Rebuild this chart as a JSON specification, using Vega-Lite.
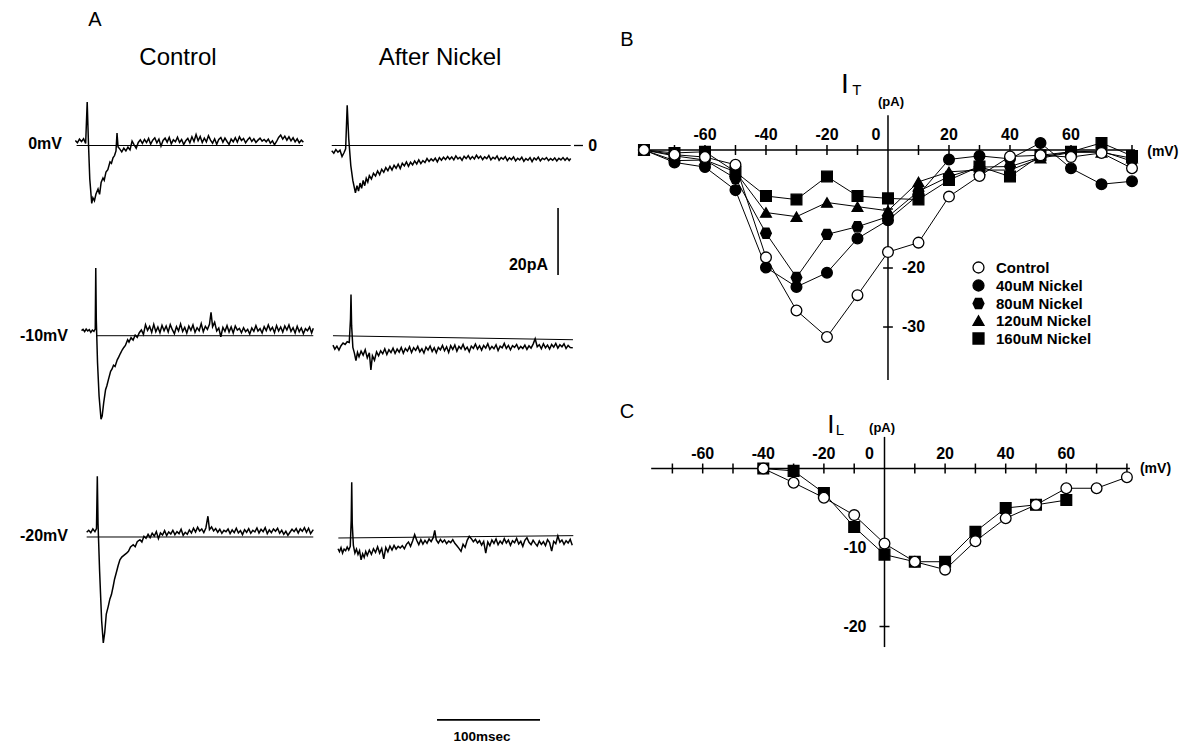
{
"$schema": "https://vega.github.io/schema/vega-lite/v6.json",
"padding": 0,
"background": "white",
"spacing": 0,
"config": {"view": {"stroke": null}, "font": "Liberation Sans", "text": {"font": "Liberation Sans", "color": "black"}},
"datasets": {
"r1c": [{"t":-12,"i":1.5},{"t":-10,"i":0.8},{"t":-8,"i":1.9},{"t":-6,"i":1.2},{"t":-4,"i":2.0},{"t":-2,"i":0.6},{"t":-0.5,"i":13.0},{"t":0.8,"i":0},{"t":2,"i":-10},{"t":3.9,"i":-17.3},{"t":5,"i":-15.6},{"t":6.5,"i":-16.5},{"t":8,"i":-14.5},{"t":10,"i":-13.0},{"t":11.5,"i":-14.6},{"t":13,"i":-11.0},{"t":14.8,"i":-9.7},{"t":16,"i":-10.4},{"t":17.7,"i":-7.9},{"t":19.5,"i":-7.2},{"t":21.6,"i":-4.9},{"t":23,"i":-5.3},{"t":24.5,"i":-3.7},{"t":26,"i":-3.0},{"t":27.4,"i":-1.6},{"t":28.4,"i":3.7},{"t":29.4,"i":-0.4},{"t":31,"i":-1.0},{"t":33,"i":-1.9},{"t":35,"i":-0.8},{"t":37,"i":-1.6},{"t":39,"i":-0.5},{"t":41,"i":-1.3},{"t":43,"i":1.3},{"t":45,"i":0.2},{"t":47,"i":-0.8},{"t":49,"i":0.9},{"t":51,"i":1.7},{"t":53,"i":0.6},{"t":55,"i":1.8},{"t":57,"i":0.9},{"t":59,"i":2.1},{"t":61,"i":0.4},{"t":63,"i":1.6},{"t":65,"i":2.3},{"t":67,"i":0.8},{"t":69,"i":1.9},{"t":71,"i":-0.2},{"t":73,"i":1.5},{"t":75,"i":2.2},{"t":77,"i":1.0},{"t":79,"i":2.4},{"t":81,"i":0.5},{"t":83,"i":1.7},{"t":85,"i":1.1},{"t":87,"i":2.5},{"t":89,"i":0.9},{"t":91,"i":1.8},{"t":93,"i":0.3},{"t":95,"i":1.4},{"t":97,"i":2.1},{"t":99,"i":0.8},{"t":101,"i":2.6},{"t":103,"i":1.2},{"t":105,"i":3.3},{"t":107,"i":1.4},{"t":109,"i":2.7},{"t":111,"i":0.9},{"t":113,"i":2.2},{"t":115,"i":1.1},{"t":117,"i":2.9},{"t":119,"i":1.6},{"t":121,"i":0.7},{"t":123,"i":2.0},{"t":125,"i":0.4},{"t":127,"i":1.8},{"t":129,"i":2.4},{"t":131,"i":1.0},{"t":133,"i":2.2},{"t":135,"i":1.2},{"t":137,"i":0.3},{"t":139,"i":1.9},{"t":141,"i":1.1},{"t":143,"i":2.3},{"t":145,"i":1.0},{"t":147,"i":2.6},{"t":149,"i":1.5},{"t":151,"i":2.1},{"t":153,"i":0.8},{"t":155,"i":1.7},{"t":157,"i":2.4},{"t":159,"i":1.2},{"t":161,"i":2.0},{"t":163,"i":0.9},{"t":165,"i":1.6},{"t":167,"i":2.2},{"t":169,"i":1.3},{"t":171,"i":1.8},{"t":173,"i":1.1},{"t":175,"i":1.9},{"t":177,"i":0.7},{"t":179,"i":1.4},{"t":181,"i":0.2},{"t":183,"i":1.2},{"t":185,"i":2.4},{"t":187,"i":3.1},{"t":189,"i":1.9},{"t":191,"i":2.8},{"t":193,"i":1.6},{"t":195,"i":2.6},{"t":197,"i":1.4},{"t":199,"i":2.3},{"t":201,"i":1.1},{"t":203,"i":2.0},{"t":205,"i":0.8},{"t":207,"i":1.6},{"t":209,"i":1.0}],
"r1n": [{"t":-15.5,"i":-1.6},{"t":-13.5,"i":-2.3},{"t":-11.5,"i":-1.2},{"t":-9.5,"i":-2.0},{"t":-7.5,"i":-1.4},{"t":-5.5,"i":-3.3},{"t":-3.5,"i":-2.1},{"t":-2,"i":-1.0},{"t":-0.5,"i":12.0},{"t":1,"i":2},{"t":3,"i":-6},{"t":5,"i":-10.5},{"t":7.5,"i":-14.1},{"t":9,"i":-12.0},{"t":10.5,"i":-13.6},{"t":12,"i":-11.2},{"t":13.5,"i":-12.8},{"t":15,"i":-10.4},{"t":16.5,"i":-12.0},{"t":18,"i":-9.8},{"t":19.5,"i":-10.9},{"t":21,"i":-9.0},{"t":23,"i":-10.0},{"t":25,"i":-8.3},{"t":27,"i":-9.1},{"t":29,"i":-7.6},{"t":31,"i":-8.7},{"t":33,"i":-7.1},{"t":35,"i":-8.0},{"t":37,"i":-6.6},{"t":39,"i":-7.5},{"t":41,"i":-6.2},{"t":43,"i":-7.3},{"t":45,"i":-5.9},{"t":47,"i":-6.8},{"t":49,"i":-5.6},{"t":51,"i":-6.9},{"t":53,"i":-5.3},{"t":55,"i":-6.1},{"t":57,"i":-4.9},{"t":59,"i":-6.2},{"t":61,"i":-5.0},{"t":63,"i":-5.8},{"t":65,"i":-4.6},{"t":67,"i":-5.5},{"t":69,"i":-4.3},{"t":71,"i":-5.4},{"t":73,"i":-4.5},{"t":75,"i":-5.1},{"t":77,"i":-3.9},{"t":79,"i":-4.8},{"t":81,"i":-4.0},{"t":83,"i":-4.6},{"t":85,"i":-3.8},{"t":87,"i":-4.9},{"t":89,"i":-3.6},{"t":91,"i":-4.4},{"t":93,"i":-3.5},{"t":95,"i":-4.2},{"t":97,"i":-3.3},{"t":99,"i":-4.1},{"t":101,"i":-3.4},{"t":103,"i":-4.3},{"t":105,"i":-3.1},{"t":107,"i":-4.0},{"t":109,"i":-3.5},{"t":111,"i":-4.4},{"t":113,"i":-3.2},{"t":115,"i":-3.9},{"t":117,"i":-3.0},{"t":119,"i":-4.1},{"t":121,"i":-3.3},{"t":123,"i":-4.0},{"t":125,"i":-2.9},{"t":127,"i":-3.8},{"t":129,"i":-3.2},{"t":131,"i":-4.2},{"t":133,"i":-3.4},{"t":135,"i":-3.9},{"t":137,"i":-3.0},{"t":139,"i":-4.3},{"t":141,"i":-3.5},{"t":143,"i":-4.0},{"t":145,"i":-3.1},{"t":147,"i":-4.4},{"t":149,"i":-3.6},{"t":151,"i":-4.1},{"t":153,"i":-3.3},{"t":155,"i":-4.5},{"t":157,"i":-3.7},{"t":159,"i":-4.2},{"t":161,"i":-3.4},{"t":163,"i":-4.6},{"t":165,"i":-3.8},{"t":167,"i":-4.3},{"t":169,"i":-3.5},{"t":171,"i":-4.7},{"t":173,"i":-3.9},{"t":175,"i":-4.4},{"t":177,"i":-3.6},{"t":179,"i":-4.8},{"t":181,"i":-3.7},{"t":183,"i":-4.3},{"t":185,"i":-3.5},{"t":187,"i":-4.6},{"t":189,"i":-3.8},{"t":191,"i":-4.2},{"t":193,"i":-3.6},{"t":195,"i":-4.5},{"t":197,"i":-3.9},{"t":199,"i":-4.4},{"t":201,"i":-3.7},{"t":203,"i":-4.6},{"t":205,"i":-3.8},{"t":207,"i":-4.3},{"t":209,"i":-3.6},{"t":211,"i":-4.4},{"t":213,"i":-3.7},{"t":215,"i":-4.5},{"t":216.5,"i":-3.9}],
"r2c": [{"t":-6,"i":1.5},{"t":-4.5,"i":1.9},{"t":-3,"i":1.2},{"t":-1.5,"i":2.0},{"t":0,"i":1.4},{"t":1.5,"i":1.8},{"t":3,"i":1.0},{"t":4.5,"i":1.7},{"t":6,"i":1.3},{"t":7.3,"i":2},{"t":7.8,"i":20.2},{"t":8.3,"i":5},{"t":9.5,"i":-8},{"t":11,"i":-18},{"t":12.9,"i":-24.9},{"t":14,"i":-24.0},{"t":15.5,"i":-20.0},{"t":17.3,"i":-16.1},{"t":18.5,"i":-15.0},{"t":20,"i":-13.2},{"t":22.2,"i":-10.6},{"t":23.5,"i":-10.0},{"t":25,"i":-8.8},{"t":26.5,"i":-9.2},{"t":28.6,"i":-7.2},{"t":30,"i":-6.4},{"t":31.5,"i":-5.4},{"t":33.5,"i":-4.2},{"t":35,"i":-3.5},{"t":36.5,"i":-2.9},{"t":38.7,"i":-1.2},{"t":40,"i":-1.9},{"t":42,"i":-0.6},{"t":44,"i":-1.3},{"t":46,"i":0.2},{"t":48,"i":-0.5},{"t":50,"i":0.9},{"t":52,"i":1.7},{"t":54,"i":0.4},{"t":56,"i":3.3},{"t":58,"i":1.6},{"t":60,"i":2.8},{"t":62,"i":1.0},{"t":64,"i":3.4},{"t":66,"i":1.2},{"t":68,"i":2.6},{"t":70,"i":0.9},{"t":72,"i":3.1},{"t":74,"i":1.5},{"t":76,"i":2.9},{"t":78,"i":1.1},{"t":80,"i":3.3},{"t":82,"i":1.8},{"t":84,"i":0.6},{"t":86,"i":2.7},{"t":88,"i":1.4},{"t":90,"i":3.5},{"t":92,"i":1.3},{"t":94,"i":2.5},{"t":96,"i":0.8},{"t":98,"i":2.9},{"t":100,"i":1.6},{"t":102,"i":3.2},{"t":104,"i":1.0},{"t":106,"i":2.4},{"t":108,"i":1.5},{"t":110,"i":3.6},{"t":112,"i":1.2},{"t":114,"i":2.8},{"t":116,"i":1.9},{"t":118,"i":3.4},{"t":119.5,"i":7.0},{"t":121,"i":2.7},{"t":123,"i":4.0},{"t":125,"i":1.4},{"t":127,"i":2.3},{"t":129,"i":-0.3},{"t":131,"i":2.5},{"t":133,"i":1.3},{"t":135,"i":3.0},{"t":137,"i":1.1},{"t":139,"i":2.6},{"t":141,"i":0.8},{"t":143,"i":2.9},{"t":145,"i":1.7},{"t":147,"i":2.2},{"t":149,"i":0.9},{"t":151,"i":2.4},{"t":153,"i":1.2},{"t":155,"i":1.9},{"t":157,"i":0.5},{"t":159,"i":2.3},{"t":161,"i":1.3},{"t":163,"i":3.0},{"t":165,"i":1.4},{"t":167,"i":2.1},{"t":169,"i":0.8},{"t":171,"i":2.7},{"t":173,"i":1.5},{"t":175,"i":3.2},{"t":177,"i":1.6},{"t":179,"i":2.5},{"t":181,"i":0.9},{"t":183,"i":3.0},{"t":185,"i":1.4},{"t":187,"i":2.6},{"t":189,"i":1.1},{"t":191,"i":2.9},{"t":193,"i":1.7},{"t":195,"i":3.2},{"t":197,"i":1.3},{"t":199,"i":2.4},{"t":201,"i":0.8},{"t":203,"i":2.8},{"t":205,"i":1.2},{"t":207,"i":2.3},{"t":209,"i":0.6},{"t":211,"i":2.1},{"t":213,"i":1.5},{"t":215,"i":2.6},{"t":217,"i":0.8},{"t":218.6,"i":2.2}],
"r2n": [{"t":-14.3,"i":-2.8},{"t":-12.5,"i":-4.0},{"t":-10.5,"i":-3.1},{"t":-8.5,"i":-4.3},{"t":-6.5,"i":-3.0},{"t":-4.5,"i":-2.2},{"t":-2.5,"i":-2.6},{"t":-0.5,"i":-1.8},{"t":1.5,"i":-2.0},{"t":2.7,"i":5},{"t":3.2,"i":12.3},{"t":3.8,"i":3},{"t":5,"i":-3.5},{"t":6.5,"i":-5.2},{"t":8,"i":-7.4},{"t":9.5,"i":-5.0},{"t":11,"i":-6.3},{"t":13,"i":-4.6},{"t":15,"i":-5.8},{"t":17,"i":-4.2},{"t":19,"i":-6.6},{"t":21,"i":-5.1},{"t":22.5,"i":-10.2},{"t":24,"i":-6.0},{"t":26,"i":-7.3},{"t":28,"i":-4.8},{"t":30,"i":-6.0},{"t":32,"i":-4.5},{"t":34,"i":-5.4},{"t":36,"i":-3.9},{"t":38,"i":-5.6},{"t":40,"i":-4.2},{"t":42,"i":-5.0},{"t":44,"i":-3.7},{"t":46,"i":-5.3},{"t":48,"i":-4.0},{"t":50,"i":-4.9},{"t":52,"i":-3.5},{"t":54,"i":-5.2},{"t":56,"i":-3.8},{"t":58,"i":-4.6},{"t":60,"i":-3.3},{"t":62,"i":-5.0},{"t":64,"i":-3.6},{"t":66,"i":-4.4},{"t":68,"i":-3.2},{"t":70,"i":-4.8},{"t":72,"i":-3.9},{"t":74,"i":-5.2},{"t":76,"i":-3.4},{"t":78,"i":-4.3},{"t":80,"i":-3.1},{"t":82,"i":-4.7},{"t":84,"i":-3.6},{"t":86,"i":-5.1},{"t":88,"i":-3.5},{"t":90,"i":-4.2},{"t":92,"i":-2.9},{"t":94,"i":-4.5},{"t":96,"i":-3.3},{"t":98,"i":-5.0},{"t":100,"i":-3.0},{"t":102,"i":-4.1},{"t":104,"i":-2.8},{"t":106,"i":-4.6},{"t":108,"i":-3.2},{"t":110,"i":-3.9},{"t":112,"i":-2.6},{"t":114,"i":-4.2},{"t":116,"i":-3.4},{"t":118,"i":-4.8},{"t":120,"i":-3.1},{"t":122,"i":-3.8},{"t":124,"i":-2.5},{"t":126,"i":-4.0},{"t":128,"i":-3.0},{"t":130,"i":-4.3},{"t":132,"i":-2.9},{"t":134,"i":-3.7},{"t":136,"i":-2.4},{"t":138,"i":-4.1},{"t":140,"i":-3.2},{"t":142,"i":-3.9},{"t":144,"i":-2.7},{"t":146,"i":-4.4},{"t":148,"i":-3.1},{"t":150,"i":-3.6},{"t":152,"i":-2.3},{"t":154,"i":-3.8},{"t":156,"i":-2.9},{"t":158,"i":-4.2},{"t":160,"i":-3.0},{"t":162,"i":-3.5},{"t":164,"i":-2.6},{"t":166,"i":-4.0},{"t":168,"i":-3.2},{"t":170,"i":-3.8},{"t":172,"i":-2.8},{"t":174,"i":-4.1},{"t":176,"i":-3.0},{"t":178,"i":-3.7},{"t":180,"i":-2.5},{"t":182,"i":-0.9},{"t":184,"i":-3.3},{"t":186,"i":-2.7},{"t":188,"i":-3.9},{"t":190,"i":-2.4},{"t":192,"i":-3.6},{"t":194,"i":-2.8},{"t":196,"i":-4.0},{"t":198,"i":-2.6},{"t":200,"i":-3.4},{"t":202,"i":-2.3},{"t":204,"i":-3.7},{"t":206,"i":-2.7},{"t":208,"i":-3.3},{"t":210,"i":-2.4},{"t":212,"i":-3.8},{"t":214,"i":-2.9},{"t":216,"i":-3.5},{"t":218.5,"i":-3.6}],
"r3c": [{"t":-1,"i":1.4},{"t":1,"i":2.0},{"t":3,"i":1.3},{"t":5,"i":2.4},{"t":7,"i":1.6},{"t":8.5,"i":2.5},{"t":9.3,"i":18.1},{"t":10,"i":4},{"t":11.5,"i":-10},{"t":13.5,"i":-25},{"t":15.1,"i":-31.6},{"t":16.5,"i":-28.5},{"t":18,"i":-23.0},{"t":19.9,"i":-20.7},{"t":21.5,"i":-18.5},{"t":23,"i":-17.2},{"t":24.7,"i":-14.7},{"t":26,"i":-12.6},{"t":28,"i":-10.3},{"t":29.5,"i":-8.5},{"t":31.2,"i":-6.8},{"t":33,"i":-6.0},{"t":35,"i":-5.5},{"t":37.7,"i":-4.8},{"t":39.5,"i":-4.3},{"t":41.5,"i":-3.0},{"t":44.1,"i":-2.3},{"t":46,"i":-2.9},{"t":48,"i":-1.4},{"t":50.6,"i":-0.8},{"t":52.5,"i":-1.5},{"t":54.5,"i":0.2},{"t":56.5,"i":-0.4},{"t":58.5,"i":0.8},{"t":60.5,"i":-0.2},{"t":62.5,"i":1.1},{"t":64.5,"i":0.3},{"t":66.5,"i":1.6},{"t":68.5,"i":-0.5},{"t":70.5,"i":1.2},{"t":72.5,"i":0.6},{"t":74.5,"i":1.9},{"t":76.5,"i":0.4},{"t":78.5,"i":1.5},{"t":80.5,"i":0.9},{"t":82.5,"i":2.0},{"t":84.5,"i":0.7},{"t":86.5,"i":1.6},{"t":88.5,"i":1.0},{"t":90.5,"i":2.3},{"t":92.5,"i":0.5},{"t":94.5,"i":1.4},{"t":96.5,"i":0.8},{"t":98.5,"i":2.1},{"t":100.5,"i":1.2},{"t":102.5,"i":2.6},{"t":104.5,"i":1.5},{"t":106.5,"i":2.9},{"t":108.5,"i":1.8},{"t":110.5,"i":2.4},{"t":112.5,"i":1.3},{"t":114.5,"i":2.7},{"t":116.5,"i":6.2},{"t":118,"i":2.2},{"t":120,"i":3.0},{"t":122,"i":1.8},{"t":124,"i":2.5},{"t":126,"i":1.4},{"t":128,"i":2.3},{"t":130,"i":1.1},{"t":132,"i":2.0},{"t":134,"i":1.6},{"t":136,"i":2.4},{"t":138,"i":1.0},{"t":140,"i":2.1},{"t":142,"i":1.3},{"t":144,"i":2.6},{"t":146,"i":1.2},{"t":148,"i":1.9},{"t":150,"i":0.7},{"t":152,"i":2.2},{"t":154,"i":1.4},{"t":156,"i":2.5},{"t":158,"i":1.1},{"t":160,"i":2.0},{"t":162,"i":1.5},{"t":164,"i":2.7},{"t":166,"i":1.2},{"t":168,"i":2.3},{"t":170,"i":1.6},{"t":172,"i":2.8},{"t":174,"i":1.0},{"t":176,"i":2.1},{"t":178,"i":1.3},{"t":180,"i":2.4},{"t":182,"i":1.7},{"t":184,"i":2.6},{"t":186,"i":1.1},{"t":188,"i":2.0},{"t":190,"i":0.8},{"t":192,"i":1.7},{"t":194,"i":0.5},{"t":196,"i":1.4},{"t":198,"i":2.3},{"t":200,"i":1.6},{"t":202,"i":2.5},{"t":204,"i":1.2},{"t":206,"i":2.4},{"t":208,"i":1.7},{"t":210,"i":2.8},{"t":212,"i":1.4},{"t":214,"i":2.6},{"t":216,"i":1.0},{"t":218.6,"i":2.2}],
"r3n": [{"t":-9.4,"i":-3.5},{"t":-8,"i":-4.4},{"t":-6.5,"i":-3.2},{"t":-5,"i":-4.8},{"t":-3.5,"i":-3.6},{"t":-2,"i":-4.1},{"t":-0.5,"i":-3.0},{"t":1,"i":-3.9},{"t":2.5,"i":-2.8},{"t":3.4,"i":5},{"t":3.9,"i":16.3},{"t":4.4,"i":4},{"t":5.5,"i":-2.5},{"t":7,"i":-4.8},{"t":8.5,"i":-3.6},{"t":10,"i":-5.2},{"t":11.5,"i":-4.1},{"t":13,"i":-6.8},{"t":14.5,"i":-5.0},{"t":16,"i":-6.1},{"t":17.5,"i":-4.3},{"t":19,"i":-5.5},{"t":21,"i":-3.9},{"t":23,"i":-5.2},{"t":25,"i":-3.5},{"t":27,"i":-4.6},{"t":29,"i":-2.9},{"t":31,"i":-4.8},{"t":33,"i":-3.4},{"t":35,"i":-6.5},{"t":37,"i":-3.1},{"t":39,"i":-4.4},{"t":41,"i":-2.7},{"t":43,"i":-3.9},{"t":45,"i":-2.5},{"t":47,"i":-3.6},{"t":49,"i":-2.8},{"t":51,"i":-3.3},{"t":53,"i":-2.6},{"t":55,"i":-3.5},{"t":57,"i":-2.2},{"t":59,"i":-1.5},{"t":61,"i":-2.8},{"t":63,"i":-1.2},{"t":65,"i":0.7},{"t":67,"i":-1.0},{"t":69,"i":-2.3},{"t":71,"i":-0.8},{"t":73,"i":-2.1},{"t":75,"i":-1.0},{"t":77,"i":-1.9},{"t":79,"i":-0.6},{"t":81,"i":-1.4},{"t":83,"i":-0.2},{"t":84.5,"i":2.0},{"t":86,"i":-0.9},{"t":88,"i":-1.8},{"t":90,"i":-0.7},{"t":92,"i":-1.6},{"t":94,"i":-0.9},{"t":96,"i":-2.0},{"t":98,"i":-1.2},{"t":100,"i":-1.7},{"t":102,"i":-0.8},{"t":104,"i":-1.9},{"t":106,"i":-2.6},{"t":108,"i":-3.4},{"t":110,"i":-4.3},{"t":112,"i":-2.2},{"t":114,"i":-3.1},{"t":116,"i":-1.0},{"t":118,"i":0.2},{"t":120,"i":-0.5},{"t":122,"i":-1.4},{"t":124,"i":-0.7},{"t":126,"i":-1.8},{"t":128,"i":-1.1},{"t":130,"i":-2.4},{"t":132,"i":-1.3},{"t":134,"i":-4.8},{"t":136,"i":-1.5},{"t":138,"i":-2.6},{"t":140,"i":-0.9},{"t":142,"i":-1.9},{"t":144,"i":-0.6},{"t":146,"i":-2.3},{"t":148,"i":-1.2},{"t":150,"i":-2.0},{"t":152,"i":-0.5},{"t":154,"i":-1.8},{"t":156,"i":-0.9},{"t":158,"i":-2.5},{"t":160,"i":-1.1},{"t":162,"i":-1.7},{"t":164,"i":-0.4},{"t":166,"i":-2.1},{"t":168,"i":-1.3},{"t":170,"i":-2.8},{"t":172,"i":-1.0},{"t":174,"i":-0.2},{"t":176,"i":-1.6},{"t":178,"i":-2.3},{"t":180,"i":-1.0},{"t":182,"i":-1.9},{"t":184,"i":-2.7},{"t":186,"i":-1.2},{"t":188,"i":-2.2},{"t":190,"i":-1.4},{"t":192,"i":-2.6},{"t":194,"i":-0.8},{"t":196,"i":-1.7},{"t":198,"i":-4.2},{"t":200,"i":-1.3},{"t":202,"i":-2.0},{"t":204,"i":0.3},{"t":206,"i":-1.6},{"t":208,"i":-0.9},{"t":210,"i":-2.2},{"t":212,"i":-1.1},{"t":214,"i":-1.8},{"t":216,"i":-0.7},{"t":218,"i":-2.5}],
"ivT": [
{"v":-80,"i":0,"s":"160uM Nickel"},{"v":-70,"i":-0.5,"s":"160uM Nickel"},{"v":-60,"i":-0.3,"s":"160uM Nickel"},{"v":-50,"i":-3.7,"s":"160uM Nickel"},{"v":-40,"i":-7.8,"s":"160uM Nickel"},{"v":-30,"i":-8.4,"s":"160uM Nickel"},{"v":-20,"i":-4.5,"s":"160uM Nickel"},{"v":-10,"i":-7.8,"s":"160uM Nickel"},{"v":0,"i":-8.2,"s":"160uM Nickel"},{"v":10,"i":-8.4,"s":"160uM Nickel"},{"v":20,"i":-5.1,"s":"160uM Nickel"},{"v":30,"i":-2.8,"s":"160uM Nickel"},{"v":40,"i":-4.5,"s":"160uM Nickel"},{"v":50,"i":-0.9,"s":"160uM Nickel"},{"v":60,"i":-0.3,"s":"160uM Nickel"},{"v":70,"i":1.2,"s":"160uM Nickel"},{"v":80,"i":-1.0,"s":"160uM Nickel"},
{"v":-80,"i":0,"s":"120uM Nickel"},{"v":-70,"i":-1.0,"s":"120uM Nickel"},{"v":-60,"i":-1.7,"s":"120uM Nickel"},{"v":-50,"i":-3.7,"s":"120uM Nickel"},{"v":-40,"i":-10.6,"s":"120uM Nickel"},{"v":-30,"i":-11.3,"s":"120uM Nickel"},{"v":-20,"i":-8.9,"s":"120uM Nickel"},{"v":-10,"i":-9.6,"s":"120uM Nickel"},{"v":0,"i":-10.3,"s":"120uM Nickel"},{"v":10,"i":-5.4,"s":"120uM Nickel"},{"v":20,"i":-3.7,"s":"120uM Nickel"},{"v":30,"i":-3.4,"s":"120uM Nickel"},{"v":40,"i":-3.4,"s":"120uM Nickel"},{"v":50,"i":-1.4,"s":"120uM Nickel"},{"v":60,"i":-0.4,"s":"120uM Nickel"},{"v":70,"i":-0.4,"s":"120uM Nickel"},{"v":80,"i":-1.4,"s":"120uM Nickel"},
{"v":-80,"i":0,"s":"80uM Nickel"},{"v":-70,"i":-1.8,"s":"80uM Nickel"},{"v":-60,"i":-1.7,"s":"80uM Nickel"},{"v":-50,"i":-4.8,"s":"80uM Nickel"},{"v":-40,"i":-14.1,"s":"80uM Nickel"},{"v":-30,"i":-21.6,"s":"80uM Nickel"},{"v":-20,"i":-14.3,"s":"80uM Nickel"},{"v":-10,"i":-13.0,"s":"80uM Nickel"},{"v":0,"i":-11.3,"s":"80uM Nickel"},{"v":10,"i":-7.0,"s":"80uM Nickel"},{"v":20,"i":-4.5,"s":"80uM Nickel"},{"v":30,"i":-2.9,"s":"80uM Nickel"},{"v":40,"i":-2.8,"s":"80uM Nickel"},{"v":50,"i":-1.2,"s":"80uM Nickel"},{"v":60,"i":-0.3,"s":"80uM Nickel"},{"v":70,"i":-0.2,"s":"80uM Nickel"},{"v":80,"i":-1.9,"s":"80uM Nickel"},
{"v":-80,"i":0,"s":"40uM Nickel"},{"v":-70,"i":-2.1,"s":"40uM Nickel"},{"v":-60,"i":-2.9,"s":"40uM Nickel"},{"v":-50,"i":-6.8,"s":"40uM Nickel"},{"v":-40,"i":-19.9,"s":"40uM Nickel"},{"v":-30,"i":-23.2,"s":"40uM Nickel"},{"v":-20,"i":-20.8,"s":"40uM Nickel"},{"v":-10,"i":-15.0,"s":"40uM Nickel"},{"v":0,"i":-11.9,"s":"40uM Nickel"},{"v":10,"i":-7.6,"s":"40uM Nickel"},{"v":20,"i":-1.6,"s":"40uM Nickel"},{"v":30,"i":-1.0,"s":"40uM Nickel"},{"v":40,"i":-1.5,"s":"40uM Nickel"},{"v":50,"i":1.2,"s":"40uM Nickel"},{"v":60,"i":-3.1,"s":"40uM Nickel"},{"v":70,"i":-5.8,"s":"40uM Nickel"},{"v":80,"i":-5.3,"s":"40uM Nickel"},
{"v":-80,"i":0,"s":"Control"},{"v":-70,"i":-0.8,"s":"Control"},{"v":-60,"i":-1.2,"s":"Control"},{"v":-50,"i":-2.5,"s":"Control"},{"v":-40,"i":-18.2,"s":"Control"},{"v":-30,"i":-27.2,"s":"Control"},{"v":-20,"i":-31.7,"s":"Control"},{"v":-10,"i":-24.6,"s":"Control"},{"v":0,"i":-17.3,"s":"Control"},{"v":10,"i":-15.7,"s":"Control"},{"v":20,"i":-7.9,"s":"Control"},{"v":30,"i":-4.4,"s":"Control"},{"v":40,"i":-1.1,"s":"Control"},{"v":50,"i":-0.9,"s":"Control"},{"v":60,"i":-1.2,"s":"Control"},{"v":70,"i":-0.5,"s":"Control"},{"v":80,"i":-3.1,"s":"Control"}],
"ivL": [
{"v":-40,"i":0,"s":"160uM Nickel"},{"v":-30,"i":-0.3,"s":"160uM Nickel"},{"v":-20,"i":-3.1,"s":"160uM Nickel"},{"v":-10,"i":-7.4,"s":"160uM Nickel"},{"v":0,"i":-10.9,"s":"160uM Nickel"},{"v":10,"i":-11.8,"s":"160uM Nickel"},{"v":20,"i":-11.8,"s":"160uM Nickel"},{"v":30,"i":-8.0,"s":"160uM Nickel"},{"v":40,"i":-5.0,"s":"160uM Nickel"},{"v":50,"i":-4.6,"s":"160uM Nickel"},{"v":60,"i":-4.0,"s":"160uM Nickel"},
{"v":-40,"i":0,"s":"Control"},{"v":-30,"i":-1.8,"s":"Control"},{"v":-20,"i":-3.7,"s":"Control"},{"v":-10,"i":-5.9,"s":"Control"},{"v":0,"i":-9.5,"s":"Control"},{"v":10,"i":-11.8,"s":"Control"},{"v":20,"i":-12.8,"s":"Control"},{"v":30,"i":-9.2,"s":"Control"},{"v":40,"i":-6.3,"s":"Control"},{"v":50,"i":-4.6,"s":"Control"},{"v":60,"i":-2.5,"s":"Control"},{"v":70,"i":-2.5,"s":"Control"},{"v":80,"i":-1.1,"s":"Control"}],
"xt": [{"v":-70},{"v":-60},{"v":-50},{"v":-40},{"v":-30},{"v":-20},{"v":-10},{"v":10},{"v":20},{"v":30},{"v":40},{"v":50},{"v":60},{"v":70},{"v":80}],
"xl": [{"v":-60,"l":"-60"},{"v":-40,"l":"-40"},{"v":-20,"l":"-20"},{"v":20,"l":"20"},{"v":40,"l":"40"},{"v":60,"l":"60"}]
},
"hconcat": [
{"spacing": 0, "vconcat": [
 {"spacing": 0, "bounds": "flush", "hconcat": [
  {"width": 320, "height": 205, "data": {"values": [{}]}, "layer": [
   {"mark": {"type": "rule", "color": "black", "strokeWidth": 1},
    "encoding": {"x": {"datum": -10.8, "type": "quantitative", "scale": {"domain": [-85, 225.1], "nice": false, "zero": false}, "axis": null}, "x2": {"datum": 208.6}, "y": {"datum": 0, "type": "quantitative", "scale": {"domain": [-17.76, 43.43], "nice": false, "zero": false}, "axis": null}}},
   {"data": {"name": "r1c"}, "mark": {"type": "line", "color": "black", "strokeWidth": 1.5},
    "encoding": {"x": {"field": "t", "type": "quantitative", "axis": null}, "y": {"field": "i", "type": "quantitative", "axis": null}}},
   {"mark": {"type": "text", "fontSize": 20, "align": "center", "baseline": "middle"},
    "encoding": {"x": {"datum": 7.1, "type": "quantitative", "axis": null}, "y": {"datum": 37.5, "type": "quantitative", "axis": null}, "text": {"value": "A"}}},
   {"mark": {"type": "text", "fontSize": 24, "align": "center", "baseline": "middle"},
    "encoding": {"x": {"datum": 87.5, "type": "quantitative", "axis": null}, "y": {"datum": 26.1, "type": "quantitative", "axis": null}, "text": {"value": "Control"}}},
   {"mark": {"type": "text", "fontSize": 16, "fontWeight": "bold", "align": "right", "baseline": "middle", "dy": -2},
    "encoding": {"x": {"datum": -24.9, "type": "quantitative", "axis": null}, "y": {"datum": 0, "type": "quantitative", "axis": null}, "text": {"value": "0mV"}}}
  ]},
  {"width": 295, "height": 205, "data": {"values": [{}]}, "layer": [
   {"mark": {"type": "rule", "color": "black", "strokeWidth": 1},
    "encoding": {"x": {"datum": -15.5, "type": "quantitative", "scale": {"domain": [-26.9, 259.5], "nice": false, "zero": false}, "axis": null}, "x2": {"datum": 216.5}, "y": {"datum": 0, "type": "quantitative", "scale": {"domain": [-17.76, 43.43], "nice": false, "zero": false}, "axis": null}}},
   {"mark": {"type": "rule", "color": "black", "strokeWidth": 1.3},
    "encoding": {"x": {"datum": 219.7, "type": "quantitative", "axis": null}, "x2": {"datum": 228.4}, "y": {"datum": 0, "type": "quantitative", "axis": null}}},
   {"data": {"name": "r1n"}, "mark": {"type": "line", "color": "black", "strokeWidth": 1.5},
    "encoding": {"x": {"field": "t", "type": "quantitative", "axis": null}, "y": {"field": "i", "type": "quantitative", "axis": null}}},
   {"mark": {"type": "text", "fontSize": 24, "align": "center", "baseline": "middle"},
    "encoding": {"x": {"datum": 89.6, "type": "quantitative", "axis": null}, "y": {"datum": 26.1, "type": "quantitative", "axis": null}, "text": {"value": "After Nickel"}}},
   {"mark": {"type": "text", "fontSize": 16, "fontWeight": "bold", "align": "left", "baseline": "middle"},
    "encoding": {"x": {"datum": 233.5, "type": "quantitative", "axis": null}, "y": {"datum": 0, "type": "quantitative", "axis": null}, "text": {"value": "0"}}}
  ]}
 ]},
 {"spacing": 0, "bounds": "flush", "hconcat": [
  {"width": 320, "height": 225, "data": {"values": [{}]}, "layer": [
   {"mark": {"type": "rule", "color": "black", "strokeWidth": 1},
    "encoding": {"x": {"datum": 8.7, "type": "quantitative", "scale": {"domain": [-85, 225.1], "nice": false, "zero": false}, "axis": null}, "x2": {"datum": 218.6}, "y": {"datum": 0, "type": "quantitative", "scale": {"domain": [-29.04, 38.12], "nice": false, "zero": false}, "axis": null}}},
   {"data": {"name": "r2c"}, "mark": {"type": "line", "color": "black", "strokeWidth": 1.5},
    "encoding": {"x": {"field": "t", "type": "quantitative", "axis": null}, "y": {"field": "i", "type": "quantitative", "axis": null}}},
   {"mark": {"type": "text", "fontSize": 16, "fontWeight": "bold", "align": "right", "baseline": "middle"},
    "encoding": {"x": {"datum": -19.1, "type": "quantitative", "axis": null}, "y": {"datum": 0, "type": "quantitative", "axis": null}, "text": {"value": "-10mV"}}}
  ]},
  {"width": 295, "height": 225, "data": {"values": [{}]}, "layer": [
   {"mark": {"type": "rule", "color": "black", "strokeWidth": 1},
    "encoding": {"x": {"datum": -14.3, "type": "quantitative", "scale": {"domain": [-26.9, 259.5], "nice": false, "zero": false}, "axis": null}, "x2": {"datum": 218.7}, "y": {"datum": 0, "type": "quantitative", "scale": {"domain": [-29.04, 38.12], "nice": false, "zero": false}, "axis": null}, "y2": {"datum": -1.2}}},
   {"data": {"name": "r2n"}, "mark": {"type": "line", "color": "black", "strokeWidth": 1.5},
    "encoding": {"x": {"field": "t", "type": "quantitative", "axis": null}, "y": {"field": "i", "type": "quantitative", "axis": null}}},
   {"mark": {"type": "rule", "color": "black", "strokeWidth": 1.6},
    "encoding": {"x": {"datum": 204.2, "type": "quantitative", "axis": null}, "y": {"datum": 18.1, "type": "quantitative", "axis": null}, "y2": {"datum": 38.1}}},
   {"mark": {"type": "text", "fontSize": 16, "fontWeight": "bold", "align": "right", "baseline": "middle"},
    "encoding": {"x": {"datum": 194.5, "type": "quantitative", "axis": null}, "y": {"datum": 21.1, "type": "quantitative", "axis": null}, "text": {"value": "20pA"}}}
  ]}
 ]},
 {"spacing": 0, "bounds": "flush", "hconcat": [
  {"width": 320, "height": 314, "data": {"values": [{}]}, "layer": [
   {"mark": {"type": "rule", "color": "black", "strokeWidth": 1},
    "encoding": {"x": {"datum": -1, "type": "quantitative", "scale": {"domain": [-85, 225.1], "nice": false, "zero": false}, "axis": null}, "x2": {"datum": 218.6}, "y": {"datum": 0, "type": "quantitative", "scale": {"domain": [-62.69, 31.04], "nice": false, "zero": false}, "axis": null}}},
   {"data": {"name": "r3c"}, "mark": {"type": "line", "color": "black", "strokeWidth": 1.5},
    "encoding": {"x": {"field": "t", "type": "quantitative", "axis": null}, "y": {"field": "i", "type": "quantitative", "axis": null}}},
   {"mark": {"type": "text", "fontSize": 16, "fontWeight": "bold", "align": "right", "baseline": "middle", "dy": -1},
    "encoding": {"x": {"datum": -19.1, "type": "quantitative", "axis": null}, "y": {"datum": 0, "type": "quantitative", "axis": null}, "text": {"value": "-20mV"}}}
  ]},
  {"width": 295, "height": 314, "data": {"values": [{}]}, "layer": [
   {"mark": {"type": "rule", "color": "black", "strokeWidth": 1},
    "encoding": {"x": {"datum": -9.1, "type": "quantitative", "scale": {"domain": [-26.9, 259.5], "nice": false, "zero": false}, "axis": null}, "x2": {"datum": 219}, "y": {"datum": -0.3, "type": "quantitative", "scale": {"domain": [-62.69, 31.04], "nice": false, "zero": false}, "axis": null}, "y2": {"datum": 0.4}}},
   {"data": {"name": "r3n"}, "mark": {"type": "line", "color": "black", "strokeWidth": 1.5},
    "encoding": {"x": {"field": "t", "type": "quantitative", "axis": null}, "y": {"field": "i", "type": "quantitative", "axis": null}}},
   {"mark": {"type": "rule", "color": "black", "strokeWidth": 1.6},
    "encoding": {"x": {"datum": 86.7, "type": "quantitative", "axis": null}, "x2": {"datum": 186.7}, "y": {"datum": -54.6, "type": "quantitative", "axis": null}}},
   {"mark": {"type": "text", "fontSize": 13.5, "fontWeight": "bold", "align": "center", "baseline": "middle"},
    "encoding": {"x": {"datum": 130.3, "type": "quantitative", "axis": null}, "y": {"datum": -59.6, "type": "quantitative", "axis": null}, "text": {"value": "100msec"}}}
  ]}
 ]}
]},
{"spacing": 0, "bounds": "flush", "vconcat": [
 {"width": 569, "height": 400, "data": {"values": [{}]}, "layer": [
  {"mark": {"type": "rule", "color": "black", "strokeWidth": 1.5},
   "encoding": {"x": {"datum": -82, "type": "quantitative", "scale": {"domain": [-89.5, 97.05], "nice": false, "zero": false}, "axis": null}, "x2": {"datum": 81}, "y": {"datum": 0, "type": "quantitative", "scale": {"domain": [-42.37, 25.42], "nice": false, "zero": false}, "axis": null}}},
  {"mark": {"type": "rule", "color": "black", "strokeWidth": 1.5},
   "encoding": {"x": {"datum": 0, "type": "quantitative", "axis": null}, "y": {"datum": 5.9, "type": "quantitative", "axis": null}, "y2": {"datum": -39}}},
  {"data": {"name": "xt"}, "mark": {"type": "rule", "color": "black", "strokeWidth": 1.5},
   "encoding": {"x": {"field": "v", "type": "quantitative", "axis": null}, "y": {"datum": -0.85, "type": "quantitative", "axis": null}, "y2": {"datum": 0.85}}},
  {"data": {"values": [{"v": -10}, {"v": -20}, {"v": -30}]}, "mark": {"type": "rule", "color": "black", "strokeWidth": 1.5},
   "encoding": {"y": {"field": "v", "type": "quantitative", "axis": null}, "x": {"datum": -1.6, "type": "quantitative", "axis": null}, "x2": {"datum": 1.6}}},
  {"data": {"name": "xl"}, "mark": {"type": "text", "fontSize": 16, "fontWeight": "bold", "align": "center", "baseline": "middle", "dy": -15},
   "encoding": {"x": {"field": "v", "type": "quantitative", "axis": null}, "y": {"datum": 0, "type": "quantitative", "axis": null}, "text": {"field": "l"}}},
  {"mark": {"type": "text", "fontSize": 16, "fontWeight": "bold", "align": "center", "baseline": "middle", "dy": -15, "dx": -12},
   "encoding": {"x": {"datum": 0, "type": "quantitative", "axis": null}, "y": {"datum": 0, "type": "quantitative", "axis": null}, "text": {"value": "0"}}},
  {"data": {"values": [{"v": -20, "l": "-20"}, {"v": -30, "l": "-30"}]}, "mark": {"type": "text", "fontSize": 16, "fontWeight": "bold", "align": "left", "baseline": "middle", "dx": 14},
   "encoding": {"x": {"datum": 0, "type": "quantitative", "axis": null}, "y": {"field": "v", "type": "quantitative", "axis": null}, "text": {"field": "l"}}},
  {"mark": {"type": "text", "fontSize": 14, "fontWeight": "bold", "align": "left", "baseline": "middle", "dy": 2},
   "encoding": {"x": {"datum": 85, "type": "quantitative", "axis": null}, "y": {"datum": 0, "type": "quantitative", "axis": null}, "text": {"value": "(mV)"}}},
  {"mark": {"type": "text", "fontSize": 28, "align": "center", "baseline": "alphabetic"},
   "encoding": {"x": {"datum": -14.1, "type": "quantitative", "axis": null}, "y": {"datum": 9.66, "type": "quantitative", "axis": null}, "text": {"value": "I"}}},
  {"mark": {"type": "text", "fontSize": 15, "align": "center", "baseline": "alphabetic"},
   "encoding": {"x": {"datum": -10.2, "type": "quantitative", "axis": null}, "y": {"datum": 9.3, "type": "quantitative", "axis": null}, "text": {"value": "T"}}},
  {"mark": {"type": "text", "fontSize": 13, "fontWeight": "bold", "align": "center", "baseline": "middle"},
   "encoding": {"x": {"datum": 1.0, "type": "quantitative", "axis": null}, "y": {"datum": 8.1, "type": "quantitative", "axis": null}, "text": {"value": "(pA)"}}},
  {"mark": {"type": "text", "fontSize": 20, "align": "center", "baseline": "middle"},
   "encoding": {"x": {"datum": -85.6, "type": "quantitative", "axis": null}, "y": {"datum": 18.6, "type": "quantitative", "axis": null}, "text": {"value": "B"}}},
  {"data": {"name": "ivT"}, "mark": {"type": "line", "color": "black", "strokeWidth": 1},
   "encoding": {"x": {"field": "v", "type": "quantitative", "axis": null}, "y": {"field": "i", "type": "quantitative", "axis": null}, "detail": {"field": "s"}}},
  {"data": {"name": "ivT"}, "mark": {"type": "point", "filled": true, "strokeWidth": 1.3, "opacity": 1, "size": 115},
   "encoding": {"x": {"field": "v", "type": "quantitative", "axis": null}, "y": {"field": "i", "type": "quantitative", "axis": null},
    "shape": {"field": "s", "type": "nominal", "scale": {"domain": ["Control", "40uM Nickel", "80uM Nickel", "120uM Nickel", "160uM Nickel"], "range": ["circle", "circle", "M-0.55,-0.95L0.55,-0.95L1,0L0.55,0.95L-0.55,0.95L-1,0Z", "triangle-up", "square"]},
     "legend": {"title": null, "orient": "none", "legendX": 971, "legendY": 260, "padding": 0, "labelFont": "Liberation Sans", "labelFontSize": 15, "labelFontWeight": "bold", "labelColor": "black", "labelOffset": 10, "symbolSize": 120, "symbolStrokeWidth": 1.3, "rowPadding": 1}},
    "fill": {"field": "s", "type": "nominal", "scale": {"domain": ["Control", "40uM Nickel", "80uM Nickel", "120uM Nickel", "160uM Nickel"], "range": ["white", "black", "black", "black", "black"]},
     "legend": {"title": null, "orient": "none", "legendX": 971, "legendY": 260, "padding": 0, "labelFont": "Liberation Sans", "labelFontSize": 15, "labelFontWeight": "bold", "labelColor": "black", "labelOffset": 10, "symbolSize": 120, "symbolStrokeWidth": 1.3, "rowPadding": 1}},
    "stroke": {"field": "s", "type": "nominal", "scale": {"domain": ["Control", "40uM Nickel", "80uM Nickel", "120uM Nickel", "160uM Nickel"], "range": ["black", "black", "black", "black", "black"]},
     "legend": {"title": null, "orient": "none", "legendX": 971, "legendY": 260, "padding": 0, "labelFont": "Liberation Sans", "labelFontSize": 15, "labelFontWeight": "bold", "labelColor": "black", "labelOffset": 10, "symbolSize": 120, "symbolStrokeWidth": 1.3, "rowPadding": 1}}}}
 ]},
 {"width": 569, "height": 344, "data": {"values": [{}]}, "layer": [
  {"mark": {"type": "rule", "color": "black", "strokeWidth": 1.5},
   "encoding": {"x": {"datum": -77, "type": "quantitative", "scale": {"domain": [-88.94, 98.84], "nice": false, "zero": false}, "axis": null}, "x2": {"datum": 81}, "y": {"datum": 0, "type": "quantitative", "scale": {"domain": [-34.87, 8.67], "nice": false, "zero": false}, "axis": null}}},
  {"mark": {"type": "rule", "color": "black", "strokeWidth": 1.5},
   "encoding": {"x": {"datum": 0, "type": "quantitative", "axis": null}, "y": {"datum": 4.0, "type": "quantitative", "axis": null}, "y2": {"datum": -22.6}}},
  {"data": {"name": "xt"}, "mark": {"type": "rule", "color": "black", "strokeWidth": 1.5},
   "encoding": {"x": {"field": "v", "type": "quantitative", "axis": null}, "y": {"datum": -0.63, "type": "quantitative", "axis": null}, "y2": {"datum": 0.63}}},
  {"data": {"values": [{"v": -10}, {"v": -20}]}, "mark": {"type": "rule", "color": "black", "strokeWidth": 1.5},
   "encoding": {"y": {"field": "v", "type": "quantitative", "axis": null}, "x": {"datum": -1.65, "type": "quantitative", "axis": null}, "x2": {"datum": 1.65}}},
  {"data": {"name": "xl"}, "mark": {"type": "text", "fontSize": 16, "fontWeight": "bold", "align": "center", "baseline": "middle", "dy": -14},
   "encoding": {"x": {"field": "v", "type": "quantitative", "axis": null}, "y": {"datum": 0, "type": "quantitative", "axis": null}, "text": {"field": "l"}}},
  {"mark": {"type": "text", "fontSize": 16, "fontWeight": "bold", "align": "center", "baseline": "middle", "dy": -14, "dx": -15},
   "encoding": {"x": {"datum": 0, "type": "quantitative", "axis": null}, "y": {"datum": 0, "type": "quantitative", "axis": null}, "text": {"value": "0"}}},
  {"data": {"values": [{"v": -10, "l": "-10"}, {"v": -20, "l": "-20"}]}, "mark": {"type": "text", "fontSize": 16, "fontWeight": "bold", "align": "right", "baseline": "middle", "dx": -18},
   "encoding": {"x": {"datum": 0, "type": "quantitative", "axis": null}, "y": {"field": "v", "type": "quantitative", "axis": null}, "text": {"field": "l"}}},
  {"mark": {"type": "text", "fontSize": 14, "fontWeight": "bold", "align": "left", "baseline": "middle", "dy": 1},
   "encoding": {"x": {"datum": 84.3, "type": "quantitative", "axis": null}, "y": {"datum": 0, "type": "quantitative", "axis": null}, "text": {"value": "(mV)"}}},
  {"mark": {"type": "text", "fontSize": 26, "align": "center", "baseline": "alphabetic"},
   "encoding": {"x": {"datum": -17.7, "type": "quantitative", "axis": null}, "y": {"datum": 4.5, "type": "quantitative", "axis": null}, "text": {"value": "I"}}},
  {"mark": {"type": "text", "fontSize": 15, "align": "center", "baseline": "alphabetic"},
   "encoding": {"x": {"datum": -14.7, "type": "quantitative", "axis": null}, "y": {"datum": 4.2, "type": "quantitative", "axis": null}, "text": {"value": "L"}}},
  {"mark": {"type": "text", "fontSize": 13, "fontWeight": "bold", "align": "center", "baseline": "middle"},
   "encoding": {"x": {"datum": -0.8, "type": "quantitative", "axis": null}, "y": {"datum": 5.1, "type": "quantitative", "axis": null}, "text": {"value": "(pA)"}}},
  {"mark": {"type": "text", "fontSize": 20, "align": "center", "baseline": "middle"},
   "encoding": {"x": {"datum": -85, "type": "quantitative", "axis": null}, "y": {"datum": 7.2, "type": "quantitative", "axis": null}, "text": {"value": "C"}}},
  {"data": {"name": "ivL"}, "mark": {"type": "line", "color": "black", "strokeWidth": 1},
   "encoding": {"x": {"field": "v", "type": "quantitative", "axis": null}, "y": {"field": "i", "type": "quantitative", "axis": null}, "detail": {"field": "s"}}},
  {"data": {"name": "ivL"}, "mark": {"type": "point", "filled": true, "strokeWidth": 1.3, "opacity": 1, "size": 115},
   "encoding": {"x": {"field": "v", "type": "quantitative", "axis": null}, "y": {"field": "i", "type": "quantitative", "axis": null},
    "shape": {"field": "s", "type": "nominal", "scale": {"domain": ["Control", "40uM Nickel", "80uM Nickel", "120uM Nickel", "160uM Nickel"], "range": ["circle", "circle", "M-0.55,-0.95L0.55,-0.95L1,0L0.55,0.95L-0.55,0.95L-1,0Z", "triangle-up", "square"]}},
    "fill": {"field": "s", "type": "nominal", "scale": {"domain": ["Control", "40uM Nickel", "80uM Nickel", "120uM Nickel", "160uM Nickel"], "range": ["white", "black", "black", "black", "black"]}},
    "stroke": {"field": "s", "type": "nominal", "scale": {"domain": ["Control", "40uM Nickel", "80uM Nickel", "120uM Nickel", "160uM Nickel"], "range": ["black", "black", "black", "black", "black"]}}}}
 ]}
]}
]
}
